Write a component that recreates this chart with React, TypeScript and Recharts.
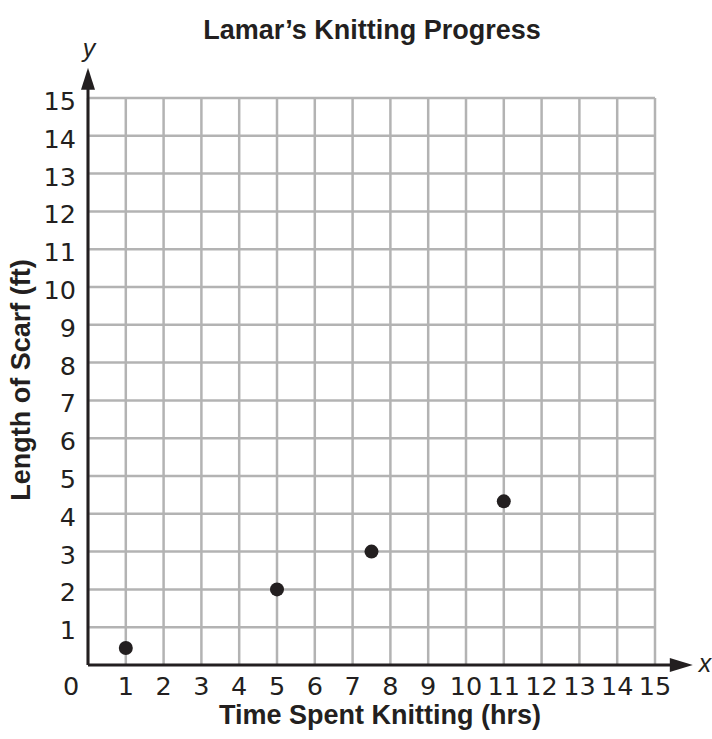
import {
  ScatterChart,
  Scatter,
  XAxis,
  YAxis,
  CartesianGrid,
  ReferenceLine,
  Customized,
} from 'recharts'

const hours = [1, 5, 7.5, 11];
const scarfLength = [0.45, 2, 3, 4.33];
const xTicks = [0, 1, 2, 3, 4, 5, 6, 7, 8, 9, 10, 11, 12, 13, 14, 15];
const yTicks = [1, 2, 3, 4, 5, 6, 7, 8, 9, 10, 11, 12, 13, 14, 15];

const points = hours.map((h, i) => ({ x: h, y: scarfLength[i] }));

const FONT = '"Liberation Sans", Arial, sans-serif';
const TICK_FONT = '"DejaVu Sans", sans-serif';
const INK = '#231f20';

function XTick(props: any) {
  const { x, y, payload } = props;
  const shift = payload.value === 0 ? -17 : 0;
  return (
    <text x={x + shift} y={y} dy="0.71em" textAnchor="middle" fontSize={25.5}
      fontFamily={TICK_FONT} fill={INK}>
      {payload.value}
    </text>
  );
}

function YTick(props: any) {
  const { x, y, payload } = props;
  return (
    <text x={x} y={y + 3} dy="0.355em" textAnchor="end" fontSize={25.5}
      fontFamily={TICK_FONT} fill={INK}>
      {payload.value}
    </text>
  );
}

function HArrow(props: any) {
  const { x1, y1, x2 } = props;
  return (
    <g>
      <line x1={x1} y1={y1} x2={x2 - 18} y2={y1} stroke={INK} strokeWidth={3} />
      <polygon points={`${x2},${y1} ${x2 - 23},${y1 - 7} ${x2 - 23},${y1 + 7}`} fill={INK} />
    </g>
  );
}

function VArrow(props: any) {
  const { x1, y1, y2 } = props;
  return (
    <g>
      <line x1={x1} y1={y1} x2={x1} y2={y2 + 18} stroke={INK} strokeWidth={3} />
      <polygon points={`${x1},${y2} ${x1 - 7},${y2 + 22} ${x1 + 7},${y2 + 22}`} fill={INK} />
    </g>
  );
}

function Extras() {
  return (
    <g fill={INK}>
      <text x={372} y={39} textAnchor="middle" fontSize={27} fontWeight="bold"
        fontFamily={FONT}>
        Lamar’s Knitting Progress
      </text>
      <text x={89} y={57} textAnchor="middle" fontSize={25} fontStyle="italic"
        fontFamily={FONT}>
        y
      </text>
      <text x={705} y={672} textAnchor="middle" fontSize={25} fontStyle="italic"
        fontFamily={FONT}>
        x
      </text>
      <text x={380} y={724} textAnchor="middle" fontSize={27} fontWeight="bold"
        fontFamily={FONT}>
        Time Spent Knitting (hrs)
      </text>
      <text x={0} y={0} transform="translate(30,380) rotate(-90)" textAnchor="middle"
        fontSize={27} fontWeight="bold" fontFamily={FONT}>
        Length of Scarf (ft)
      </text>
    </g>
  );
}

export default function App() {
  return (
    <div style={{ position: 'absolute', left: 0, top: 0, background: '#fff' }}>
      <ScatterChart width={712} height={739}
        margin={{ top: 98, right: 57, bottom: 34, left: 28 }}>
        <CartesianGrid stroke="#b3b3b3" strokeWidth={2.5}
          horizontalValues={yTicks} verticalValues={xTicks} />
        <XAxis type="number" dataKey="x" domain={[0, 15]} ticks={xTicks}
          interval={0} axisLine={false} tickLine={false} tickSize={0}
          tickMargin={12} height={40} tick={<XTick />} allowDataOverflow />
        <YAxis type="number" dataKey="y" domain={[0, 15]} ticks={yTicks}
          interval={0} axisLine={false} tickLine={false} tickSize={0}
          tickMargin={12} width={60} tick={<YTick />} allowDataOverflow />
        <ReferenceLine segment={[{ x: 0, y: 0 }, { x: 16, y: 0 }]}
          ifOverflow="visible" shape={<HArrow />} />
        <ReferenceLine segment={[{ x: 0, y: 0 }, { x: 0, y: 15.8 }]}
          ifOverflow="visible" shape={<VArrow />} />
        <Scatter data={points} fill={INK} isAnimationActive={false}
          shape={(p: any) => <circle cx={p.cx} cy={p.cy} r={7} fill={INK} />} />
        <Customized component={<Extras />} />
      </ScatterChart>
    </div>
  );
}
